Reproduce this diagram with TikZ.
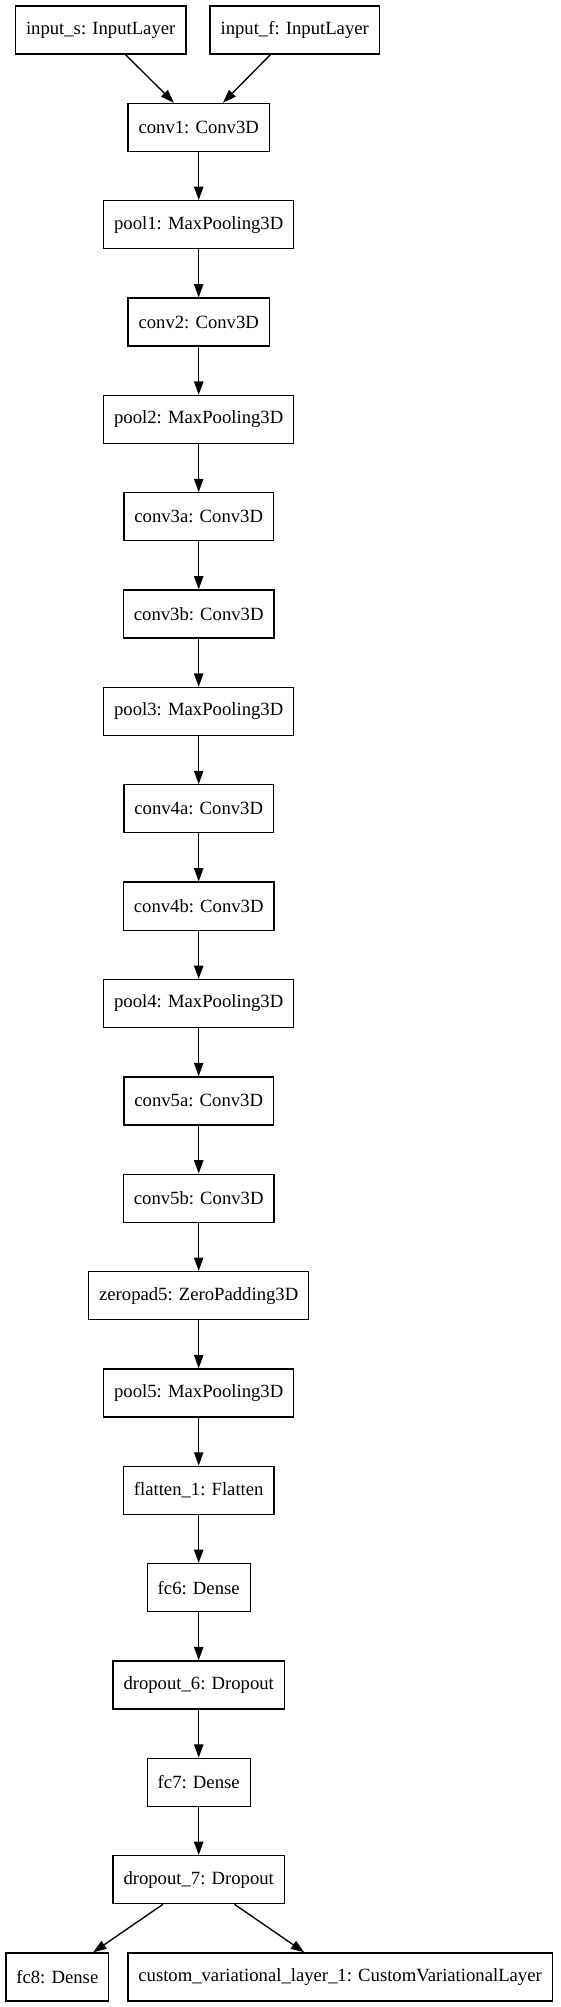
\documentclass[tikz,border=0pt]{standalone}
\usepackage{fontspec}
\setmainfont{Liberation Serif}
\usepackage{tikz}
\usetikzlibrary{arrows.meta}
\tikzset{
  layer/.style={rectangle,draw,line width=1pt,font=\fontsize{14pt}{16pt}\selectfont,
    minimum height=36pt,inner xsep=7.9pt,inner ysep=0pt},
  flow/.style={draw,line width=1pt,-{Triangle[length=10pt,width=7pt]}}
}

\begin{document}
\begin{tikzpicture}[level distance=73pt, sibling distance=212pt,
	      edge from parent/.style={flow}
	    ]
        \useasboundingbox (0,0) rectangle (420pt,-1505pt);
        \node [layer] (inputs) at (75.5pt,-22.5pt) {input\_s: InputLayer};
        \node [layer] (inputf) at (221pt,-22.5pt) {input\_f: InputLayer};
        \node [layer] (conv1) at (149pt,-95.5pt) {conv1: Conv3D}
          child {node [layer] (pool1) {pool1: MaxPooling3D}
          child {node [layer] (conv2) {conv2: Conv3D}
          child {node [layer] (pool2) {pool2: MaxPooling3D}
          child {node [layer] (conv3a) {conv3a: Conv3D}
          child {node [layer] (conv3b) {conv3b: Conv3D}
          child {node [layer] (pool3) {pool3: MaxPooling3D}
          child {node [layer] (conv4a) {conv4a: Conv3D}
          child {node [layer] (conv4b) {conv4b: Conv3D}
          child {node [layer] (pool4) {pool4: MaxPooling3D}
          child {node [layer] (conv5a) {conv5a: Conv3D}
          child {node [layer] (conv5b) {conv5b: Conv3D}
          child {node [layer] (zeropad5) {zeropad5: ZeroPadding3D}
          child {node [layer] (pool5) {pool5: MaxPooling3D}
          child {node [layer] (flatten1) {flatten\_1: Flatten}
          child {node [layer] (fc6) {fc6: Dense}
          child {node [layer] (dropout6) {dropout\_6: Dropout}
          child {node [layer] (fc7) {fc7: Dense}
          child {node [layer] (dropout7) {dropout\_7: Dropout}
            child {node [layer] (fc8) {fc8: Dense}}
            child {node [layer] (custom) {custom\_variational\_layer\_1: CustomVariationalLayer}}
          }}}}}}}}}}}}}}}}}};
        \draw [flow] (inputs) -- (conv1);
        \draw [flow] (inputf) -- (conv1);
      \end{tikzpicture}
\end{document}
